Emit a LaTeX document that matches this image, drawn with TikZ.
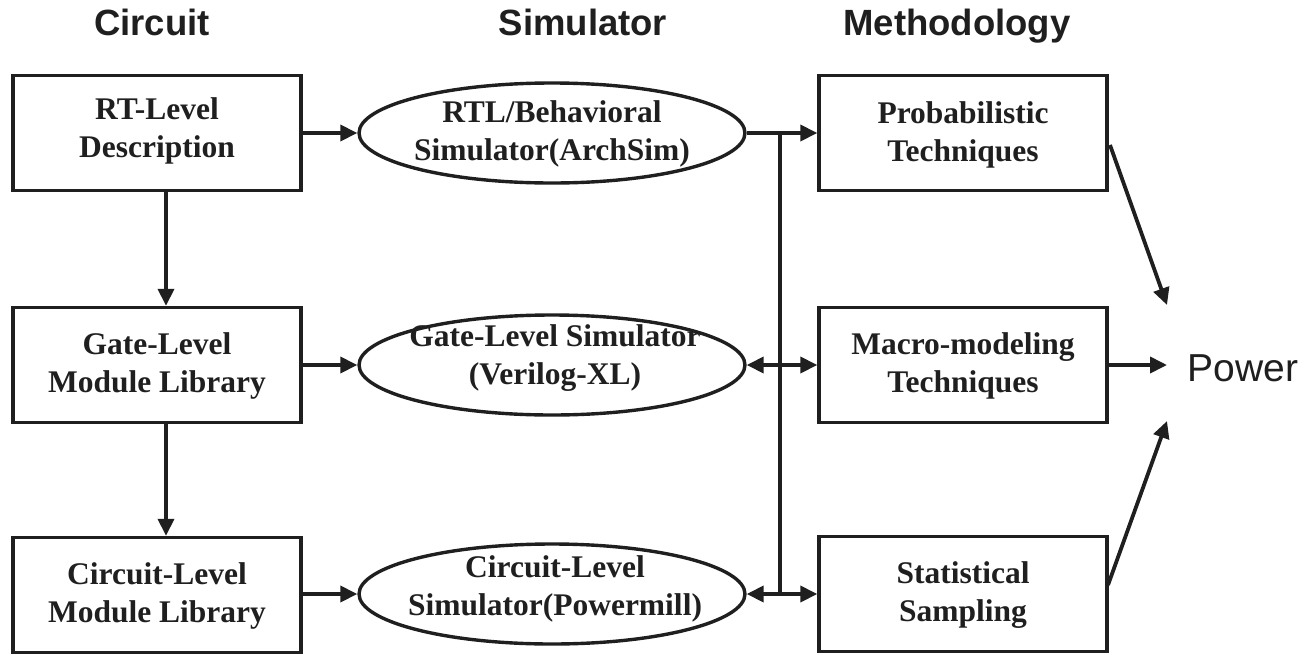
\documentclass[tikz,border=0pt]{standalone}
\usepackage{fontspec}
\setmainfont{Liberation Serif}
\newfontfamily\headfont{Liberation Sans}
\usetikzlibrary{arrows.meta,shapes.geometric}
\tikzset{
  conn/.style={line width=3.8pt, color=black!88},
  tip/.style={-{Triangle[length=17pt,width=16pt]}},
  twotip/.style={{Triangle[length=17pt,width=16pt]}-{Triangle[length=17pt,width=16pt]}},
  boxnode/.style={draw=black!88, line width=3.4pt, minimum width=288pt, minimum height=115pt, inner sep=0pt},
  ellnode/.style={draw=black!88, line width=3.4pt, ellipse, minimum width=386pt, minimum height=100pt, inner sep=0pt},
  txt/.style={align=center, font=\fontsize{31.5}{38}\selectfont\bfseries, text=black!88, inner sep=0pt},
  head/.style={font=\headfont\fontsize{36.5}{40}\selectfont\bfseries, text=black!88, inner sep=0pt, anchor=base},
}
\begin{document}
\begin{tikzpicture}[x=1pt,y=-1pt]
\useasboundingbox (0,0) rectangle (1315,654);
% headers
\node[head] (h1) at (152,35) {Circuit};
\node[head] (h2) at (583,35) {Simulator};
\node[head] (h3) at (957,35) {Methodology};
% left boxes
\node[boxnode] (b1) at (157,133) {};
\node[txt] (b1t) at (157,131) {RT-Level\\Description};
\node[boxnode] (b2) at (157,365) {};
\node[txt] (b2t) at (157,366) {Gate-Level\\Module Library};
\node[boxnode] (b3) at (157,595) {};
\node[txt] (b3t) at (157,596) {Circuit-Level\\Module Library};
% ellipses
\node[ellnode] (e1) at (552,133) {};
\node[txt] (e1t) at (552,134) {RTL/Behavioral\\Simulator(ArchSim)};
\node[ellnode] (e2) at (552,365) {};
\node[txt] (e2t) at (555,358) {Gate-Level Simulator\\(Verilog-XL)};
\node[ellnode] (e3) at (552,594) {};
\node[txt] (e3t) at (555,589) {Circuit-Level\\Simulator(Powermill)};
% methodology boxes
\node[boxnode] (m1) at (963,133) {};
\node[txt] (m1t) at (963,135) {Probabilistic\\Techniques};
\node[boxnode] (m2) at (963,365) {};
\node[txt] (m2t) at (963,366) {Macro-modeling\\Techniques};
\node[boxnode] (m3) at (963,594) {};
\node[txt] (m3t) at (963,595) {Statistical\\Sampling};
% power
\node[font=\headfont\fontsize{39}{44}\selectfont, text=black!88, inner sep=0pt] (pw) at (1243,368) {Power};
% coordinates
\coordinate (busTop) at (780,133);
\coordinate (busBot) at (780,594);
\coordinate (p1s) at (1110,145);
\coordinate (p1e) at (1167,305);
\coordinate (p2e) at (1167,365);
\coordinate (p3s) at (1108,585);
\coordinate (p3e) at (1167,421);
% connectors
\draw[conn,tip] ([xshift=9pt]b1.south) -- ([xshift=9pt]b2.north);
\draw[conn,tip] ([xshift=9pt]b2.south) -- ([xshift=9pt]b3.north);
\draw[conn,tip] (b1.east) -- (e1.west);
\draw[conn,tip] (b2.east) -- (e2.west);
\draw[conn,tip] (b3.east |- e3.west) -- (e3.west);
\draw[conn,tip] (e1.east) -- (m1.west);
\draw[conn] (busTop) -- (busBot);
\draw[conn,twotip] (e2.east) -- (m2.west |- e2.east);
\draw[conn,twotip] (e3.east) -- (m3.west |- e3.east);
\draw[conn,tip] (p1s) -- (p1e);
\draw[conn,tip] (m2.east) -- (p2e);
\draw[conn,tip] (p3s) -- (p3e);
\end{tikzpicture}
\end{document}
